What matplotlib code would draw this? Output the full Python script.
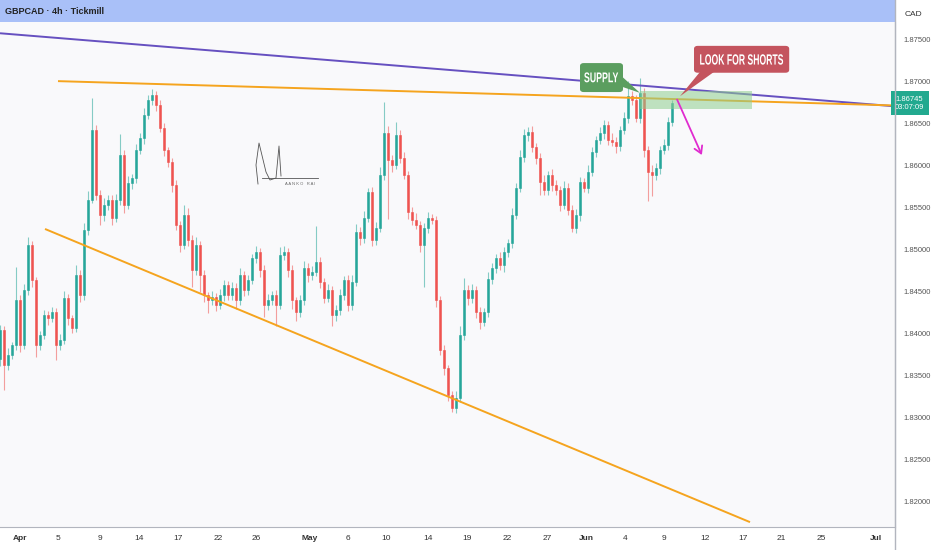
import matplotlib
matplotlib.use("Agg")
import matplotlib.pyplot as plt
from matplotlib.patches import Rectangle, FancyBboxPatch, Polygon, FancyArrowPatch, PathPatch
from matplotlib.transforms import blended_transform_factory, Affine2D, IdentityTransform
from matplotlib.textpath import TextPath
from matplotlib.font_manager import FontProperties

plt.rcParams["font.family"] = ["Liberation Sans", "DejaVu Sans"]

# ---- price data (4h bars) ----
first_open = 1.8370
closes = [
    1.8405, 1.8363, 1.8375, 1.8387, 1.8440, 1.8387, 1.8452, 1.8506, 1.8464, 1.8387,
    1.8399, 1.8423, 1.8419, 1.8426, 1.8387, 1.8393, 1.8443, 1.8419, 1.8407, 1.8470,
    1.8446, 1.8524, 1.8560, 1.8643, 1.8566, 1.8542, 1.8554, 1.8560, 1.8538, 1.8560,
    1.8613, 1.8554, 1.8580, 1.8586, 1.8619, 1.8633, 1.8661, 1.8679, 1.8685, 1.8673,
    1.8645, 1.8619, 1.8605, 1.8577, 1.8530, 1.8506, 1.8542, 1.8512, 1.8476, 1.8506,
    1.8470, 1.8446, 1.8440, 1.8444, 1.8435, 1.8446, 1.8458, 1.8446, 1.8455, 1.8440,
    1.8470, 1.8452, 1.8464, 1.8490, 1.8497, 1.8476, 1.8435, 1.8440, 1.8446, 1.8435,
    1.8494, 1.8497, 1.8476, 1.8440, 1.8426, 1.8440, 1.8479, 1.8470, 1.8474, 1.8486,
    1.8462, 1.8443, 1.8452, 1.8423, 1.8429, 1.8446, 1.8464, 1.8435, 1.8462, 1.8521,
    1.8514, 1.8538, 1.8569, 1.8512, 1.8526, 1.8589, 1.8639, 1.8607, 1.8601, 1.8637,
    1.8609, 1.8589, 1.8545, 1.8536, 1.8530, 1.8506, 1.8526, 1.8538, 1.8536, 1.8440,
    1.8381, 1.8359, 1.8327, 1.8312, 1.8324, 1.8399, 1.8452, 1.8443, 1.8452, 1.8426,
    1.8414, 1.8426, 1.8466, 1.8478, 1.8490, 1.8482, 1.8497, 1.8508, 1.8542, 1.8574,
    1.8611, 1.8637, 1.8641, 1.8622, 1.8610, 1.8581, 1.8571, 1.8589, 1.8577, 1.8571,
    1.8554, 1.8574, 1.8548, 1.8526, 1.8542, 1.8581, 1.8574, 1.8593, 1.8617, 1.8631,
    1.8639, 1.8649, 1.8631, 1.8629, 1.8624, 1.8643, 1.8657, 1.8683, 1.8679, 1.8657,
    1.8687, 1.8619, 1.8593, 1.8589, 1.8598, 1.8619, 1.8625, 1.8652, 1.86745,
]
# wick lengths in pips above / below the body
wick_up = [
    6, 5, 8, 4, 40, 6, 8, 10, 5, 4,
    5, 6, 4, 6, 5, 7, 8, 5, 4, 12,
    6, 8, 10, 38, 6, 5, 8, 6, 5, 7,
    25, 6, 8, 5, 7, 6, 8, 5, 7, 4,
    5, 6, 4, 5, 6, 5, 12, 8, 6, 10,
    5, 6, 4, 7, 5, 8, 6, 5, 7, 6,
    8, 5, 6, 5, 8, 5, 6, 7, 5, 6,
    10, 8, 5, 6, 4, 6, 8, 5, 7, 42,
    6, 5, 8, 5, 6, 7, 5, 6, 8, 10,
    6, 8, 5, 6, 7, 10, 37, 8, 6, 15,
    6, 8, 5, 6, 8, 5, 6, 7, 5, 4,
    5, 6, 4, 5, 8, 10, 15, 6, 8, 5,
    6, 5, 8, 6, 5, 7, 6, 5, 8, 6,
    8, 7, 5, 6, 5, 6, 8, 5, 7, 6,
    5, 8, 6, 5, 7, 6, 5, 8, 6, 5,
    7, 6, 5, 8, 6, 5, 7, 18, 6, 5,
    18, 6, 5, 8, 6, 5, 7, 6, 4,
]
wick_dn = [
    8, 30, 6, 5, 6, 8, 5, 6, 8, 15,
    6, 5, 8, 5, 18, 6, 5, 8, 6, 5,
    8, 5, 6, 4, 6, 12, 8, 6, 8, 5,
    6, 10, 5, 8, 6, 5, 7, 5, 6, 8,
    5, 7, 6, 8, 6, 8, 5, 7, 20, 6,
    20, 8, 15, 6, 8, 5, 7, 6, 5, 10,
    5, 7, 6, 5, 6, 8, 15, 7, 6, 25,
    5, 6, 8, 10, 10, 6, 5, 8, 6, 5,
    7, 6, 5, 14, 8, 6, 5, 8, 6, 5,
    8, 6, 5, 7, 6, 5, 6, 70, 8, 5,
    6, 5, 8, 6, 5, 8, 50, 6, 5, 8,
    6, 8, 7, 5, 6, 5, 6, 8, 6, 7,
    8, 5, 6, 7, 5, 6, 8, 5, 6, 5,
    5, 6, 7, 5, 8, 15, 6, 5, 7, 6,
    8, 5, 6, 5, 6, 7, 5, 6, 5, 6,
    5, 7, 6, 5, 8, 6, 5, 6, 7, 5,
    6, 8, 35, 25, 6, 8, 5, 6, 5,
]

# time axis labels (bar positions)
tick_labels = ["Apr", "5", "9", "14", "17", "22", "26", "May", "6", "10", "14", "19",
               "22", "27", "Jun", "4", "9", "12", "17", "21", "25", "Jul"]
tick_pos = [5.0, 14.5, 25.0, 34.75, 44.5, 54.5, 64.0, 77.5, 87.0, 96.5, 107.0, 116.75,
            126.75, 136.75, 146.5, 156.25, 166.0, 176.25, 185.75, 195.25, 205.25, 219.0]
price_ticks = [1.820, 1.825, 1.830, 1.835, 1.840, 1.845, 1.850, 1.855, 1.860, 1.865, 1.870, 1.875]

# drawn trendlines: (bar, price) anchors
purple_line = [(0.0, 1.8758), (223.75, 1.8671)]
top_line = [(14.5, 1.8701), (223.75, 1.8672)]
low_line = [(11.25, 1.8525), (187.5, 1.8176)]
supply_zone = (160.0, 188.0, 1.8668, 1.8689)
short_arrow = [(169.0, 1.8682), (175.75, 1.8610)]

BG = "#f9f9fb"
GREEN = "#26a69a"
RED = "#ef5350"

fig = plt.figure(figsize=(9.32, 5.5), dpi=100, facecolor="white")
ax = fig.add_axes([0, 23 / 550, 895 / 932, 505 / 550])
ax.set_facecolor(BG)
ax.set_xlim(0, 223.75)
ax.set_ylim(1.81702, 1.87714)

# candles
opens = [first_open] + closes[:-1]
for i, (o, c) in enumerate(zip(opens, closes)):
    col = GREEN if c >= o else RED
    hi = max(o, c) + wick_up[i] * 1e-4
    lo = min(o, c) - wick_dn[i] * 1e-4
    ax.vlines(i, lo, hi, color=col, lw=0.8, alpha=0.55, zorder=2)
    h = max(abs(c - o), 0.00008)
    ax.add_patch(Rectangle((i - 0.3, min(o, c)), 0.6, h, facecolor=col, edgecolor=col,
                           lw=0.4, zorder=3))

# trendlines
for pts, col in [(purple_line, "#6650c0"), (top_line, "#f5a41e"), (low_line, "#f5a41e")]:
    ax.plot([p[0] for p in pts], [p[1] for p in pts], color=col, lw=1.4, zorder=4,
            solid_capstyle="butt")

# supply zone
x0, x1, y0, y1 = supply_zone
ax.add_patch(Rectangle((x0, y0), x1 - x0, y1 - y0, facecolor="#8fce8f", alpha=0.55,
                       edgecolor="none", zorder=5))


def squeezed_text(x, y, s, w_px, h_px, color="white"):
    # condensed label: glyph outlines stretched to the box size seen on the chart
    tp = TextPath((0, 0), s, size=10, prop=FontProperties(family="Liberation Sans", weight="bold"))
    ext = tp.get_extents()
    cx, cy = ax.transData.transform((x, y))
    t = (Affine2D().translate(-(ext.x0 + ext.width / 2), -(ext.y0 + ext.height / 2))
         .scale(w_px / ext.width, h_px / ext.height).translate(cx, cy))
    fig.add_artist(PathPatch(t.transform_path(tp), facecolor=color, edgecolor="none",
                             transform=IdentityTransform(), zorder=8))


# SUPPLY callout
ax.add_patch(Polygon([(152.0, 1.8700), (155.6, 1.8706), (160.0, 1.8687)], closed=True,
                     facecolor="#5b9e5f", edgecolor="none", zorder=6))
ax.add_patch(FancyBboxPatch((145.0, 1.8688), 10.75, 0.00345,
                            boxstyle="round,pad=0,rounding_size=0.9", mutation_aspect=0.0004,
                            facecolor="#5b9e5f", edgecolor="none", zorder=6))
squeezed_text(150.3, 1.87055, "SUPPLY", 34, 10)

# LOOK FOR SHORTS callout
ax.add_patch(Polygon([(175.0, 1.8712), (178.5, 1.8712), (170.0, 1.8683)], closed=True,
                     facecolor="#c4545e", edgecolor="none", zorder=6))
ax.add_patch(FancyBboxPatch((173.5, 1.8711), 23.8, 0.0032,
                            boxstyle="round,pad=0,rounding_size=0.9", mutation_aspect=0.0004,
                            facecolor="#c4545e", edgecolor="none", zorder=6))
squeezed_text(185.4, 1.87268, "LOOK FOR SHORTS", 83, 10.5)

# magenta arrow
ax.add_patch(FancyArrowPatch(short_arrow[0], short_arrow[1], arrowstyle="->,head_length=5,head_width=3",
                             color="#e02bcf", lw=1.3, zorder=7))


# signature (decoration, axes-pixel space)
def px(xp, yp):
    return xp / 895, (527 - yp) / 505


sig = [(258, 184), (256, 165), (259, 143), (266, 172), (270, 180), (276, 178), (279, 146),
       (281, 176)]
ax.plot([px(*p)[0] for p in sig], [px(*p)[1] for p in sig], transform=ax.transAxes,
        color="#555555", lw=0.6, zorder=4)
ax.plot([px(262, 178)[0], px(318, 178)[0]], [px(262, 178)[1]] * 2, transform=ax.transAxes,
        color="#555555", lw=0.6, zorder=4)
ax.text(*px(300, 182), "A A N K O   R A I", transform=ax.transAxes, fontsize=3,
        color="#666666", ha="center", va="top")

# axes styling
for s in ["left", "top"]:
    ax.spines[s].set_visible(False)
ax.spines["right"].set_color("#b2b5be")
ax.spines["bottom"].set_color("#b2b5be")
ax.yaxis.tick_right()
ax.set_yticks(price_ticks)
ax.set_yticklabels([f"{p:.5f}" for p in price_ticks])
ax.tick_params(axis="y", length=0, pad=6, labelsize=5.5, labelcolor="#555555")
ax.set_xticks(tick_pos)
ax.set_xticklabels(tick_labels)
ax.tick_params(axis="x", length=0, pad=6, labelsize=6, labelcolor="#333333")
for lbl in ax.get_xticklabels():
    if lbl.get_text() in ("Apr", "May", "Jun", "Jul"):
        lbl.set_fontweight("bold")

# last price tag
tr = blended_transform_factory(ax.transAxes, ax.transData)
ax.text(1.0, closes[-1], f"{closes[-1]:.5f}\n03:07:09", transform=tr, fontsize=5.5,
        color="white", ha="left", va="center", linespacing=1.35, clip_on=False, zorder=10,
        bbox=dict(boxstyle="square,pad=0.55", facecolor="#22a98f", edgecolor="none"))

# header banner and right scale
fig.add_artist(Rectangle((0, 1 - 22 / 550), 895 / 932, 22 / 550, transform=fig.transFigure,
                         facecolor="#a9c0f8", edgecolor="none", zorder=1))
fig.text(5 / 932, 1 - 11 / 550, "GBPCAD · 4h · Tickmill", fontsize=6.5, fontweight="bold",
         color="#222222", ha="left", va="center", zorder=3)
fig.text(913 / 932, 1 - 14 / 550, "CAD", fontsize=6, color="#333333", ha="center",
         va="center")
fig.add_artist(plt.Line2D([895 / 932, 895 / 932], [0, 1], transform=fig.transFigure,
                          color="#b2b5be", lw=1))

fig.savefig("out.png", dpi=100, facecolor="white")
